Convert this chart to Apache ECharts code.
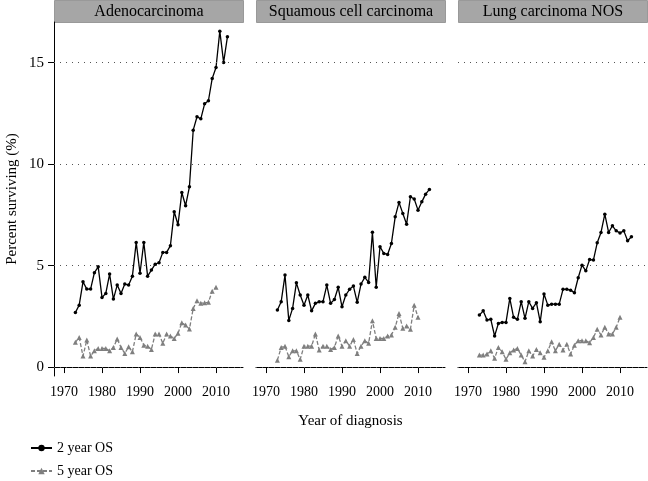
<!DOCTYPE html>
<html>
<head>
<meta charset="utf-8">
<script src="https://cdn.jsdelivr.net/npm/echarts@6/dist/echarts.min.js"></script>
<style>html,body{margin:0;padding:0;background:#fff}#c{width:648px;height:481px}</style>
</head>
<body>
<div id="c"></div>
<script>
const panels = ['Adenocarcinoma', 'Squamous cell carcinoma', 'Lung carcinoma NOS'];
const years2 = [1973,1974,1975,1976,1977,1978,1979,1980,1981,1982,1983,1984,1985,1986,1987,1988,1989,1990,1991,1992,1993,1994,1995,1996,1997,1998,1999,2000,2001,2002,2003,2004,2005,2006,2007,2008,2009,2010,2011,2012,2013];
const years5 = [1973,1974,1975,1976,1977,1978,1979,1980,1981,1982,1983,1984,1985,1986,1987,1988,1989,1990,1991,1992,1993,1994,1995,1996,1997,1998,1999,2000,2001,2002,2003,2004,2005,2006,2007,2008,2009,2010];
const adeno2 = [2.69,3.05,4.20,3.84,3.84,4.65,4.94,3.43,3.63,4.58,3.35,4.04,3.63,4.09,4.04,4.48,6.14,4.62,6.14,4.48,4.78,5.07,5.14,5.65,5.65,5.98,7.65,7.01,8.60,7.95,8.88,11.67,12.33,12.23,12.97,13.12,14.22,14.76,16.55,15.01,16.27];
const adeno5 = [1.22,1.46,0.54,1.33,0.54,0.80,0.92,0.92,0.92,0.80,0.97,1.38,0.97,0.67,1.00,0.75,1.63,1.46,1.08,1.03,0.87,1.63,1.63,1.17,1.63,1.53,1.41,1.66,2.18,2.07,1.87,2.89,3.27,3.14,3.17,3.19,3.74,3.93];
const squam2 = [2.81,3.22,4.53,2.30,2.89,4.15,3.55,3.05,3.55,2.77,3.14,3.22,3.22,4.04,3.14,3.33,3.93,2.97,3.55,3.83,3.99,3.19,4.09,4.42,4.17,6.64,3.93,5.93,5.60,5.55,6.09,7.40,8.11,7.57,7.04,8.39,8.28,7.73,8.14,8.52,8.75];
const squam5 = [0.34,0.97,1.03,0.51,0.80,0.80,0.38,1.03,1.03,1.03,1.63,0.84,1.03,1.03,0.87,0.97,1.53,1.03,1.30,1.03,1.36,0.67,1.03,1.30,1.17,2.28,1.41,1.41,1.41,1.53,1.58,1.96,2.64,1.91,2.02,1.86,3.05,2.45];
const lung2 = [2.56,2.77,2.32,2.35,1.53,2.15,2.20,2.20,3.38,2.45,2.35,3.22,2.40,3.22,2.89,3.17,2.23,3.60,3.05,3.10,3.10,3.10,3.83,3.83,3.79,3.66,4.40,5.02,4.74,5.30,5.27,6.12,6.63,7.53,6.63,6.96,6.71,6.61,6.71,6.22,6.42];
const lung5 = [0.59,0.59,0.64,0.80,0.43,0.97,0.75,0.38,0.70,0.84,0.92,0.59,0.26,0.80,0.54,0.87,0.70,0.48,0.80,1.25,0.80,1.13,0.84,1.13,0.64,1.08,1.30,1.30,1.30,1.20,1.46,1.86,1.58,1.96,1.63,1.63,1.96,2.45];
const xTicks = [1970, 1980, 1990, 2000, 2010];
const yTicks = [0, 5, 10, 15];
const seriesNames = ['2 year OS', '5 year OS'];

const twoYear = [adeno2, squam2, lung2];
const fiveYear = [adeno5, squam5, lung5];

const FONT = '"Liberation Serif", "Times New Roman", serif';
const gridLeft = [54, 256, 458];
const gridW = 189;
const gridTop = 22;
const gridH = 354;
const xMin = 1967.37, xMax = 2017.1;
const yMin = -0.44, yMax = 17.0;

const grids = [], xAxes = [], yAxes = [], series = [], graphics = [];
panels.forEach((p, i) => {
  grids.push({left: gridLeft[i], top: gridTop, width: gridW, height: gridH});
  xAxes.push({
    type: 'value', gridIndex: i, min: xMin, max: xMax,
    axisLine: {show: true, lineStyle: {color: '#000', width: 1}},
    axisTick: {show: true, length: 6, customValues: xTicks, lineStyle: {color: '#000'}},
    axisLabel: {customValues: xTicks, color: '#000', fontFamily: FONT, fontSize: 14, margin: 9,
                formatter: v => String(v)},
    splitLine: {show: false},
    name: i === 1 ? 'Year of diagnosis' : '', nameLocation: 'middle', nameGap: 38,
    nameTextStyle: {color: '#000', fontFamily: FONT, fontSize: 15}
  });
  yAxes.push({
    type: 'value', gridIndex: i, min: yMin, max: yMax,
    axisLine: {show: i === 0, lineStyle: {color: '#000', width: 1}},
    axisTick: {show: i === 0, length: 6, customValues: yTicks, lineStyle: {color: '#000'}},
    axisLabel: {show: i === 0, customValues: yTicks, color: '#000', fontFamily: FONT, fontSize: 15, margin: 10},
    splitLine: {show: false},
    name: i === 0 ? 'Percent surviving (%)' : '', nameLocation: 'middle', nameGap: 34,
    nameTextStyle: {color: '#000', fontFamily: FONT, fontSize: 15}
  });
  series.push({
    name: seriesNames[0], type: 'line', xAxisIndex: i, yAxisIndex: i,
    data: years2.map((y, k) => [y, twoYear[i][k]]),
    symbol: 'circle', symbolSize: 3.5, showSymbol: true,
    lineStyle: {color: '#000', width: 1.3}, itemStyle: {color: '#000'},
    animation: false, z: 3,
    markLine: {
      silent: true, symbol: 'none', label: {show: false},
      lineStyle: {color: '#555', width: 1, type: [1, 5]},
      data: yTicks.map(v => ({yAxis: v})), animation: false
    }
  });
  series.push({
    name: seriesNames[1], type: 'line', xAxisIndex: i, yAxisIndex: i,
    data: years5.map((y, k) => [y, fiveYear[i][k]]),
    symbol: 'triangle', symbolSize: 5, showSymbol: true,
    lineStyle: {color: '#7f7f7f', width: 1.3, type: [4, 2]}, itemStyle: {color: '#7f7f7f'},
    animation: false, z: 2
  });
  graphics.push({
    type: 'group', left: gridLeft[i], top: 0,
    children: [
      {type: 'rect', shape: {x: 0, y: 0, width: gridW, height: 22},
       style: {fill: '#a6a6a6', stroke: '#999', lineWidth: 1}},
      {type: 'text', x: gridW / 2, y: 11,
       style: {text: p, fill: '#000', font: '16px ' + FONT, align: 'center', verticalAlign: 'middle'}}
    ]
  });
});

const chart = echarts.init(document.getElementById('c'), null, {renderer: 'canvas'});
chart.setOption({
  animation: false,
  backgroundColor: '#fff',
  grid: grids, xAxis: xAxes, yAxis: yAxes, series: series,
  graphic: graphics,
  legend: {
    data: seriesNames, orient: 'vertical', left: 30, top: 441, height: 40, padding: 0,
    itemWidth: 21, itemHeight: 8, itemGap: 9,
    textStyle: {color: '#000', fontFamily: FONT, fontSize: 14}
  }
});
</script>
</body>
</html>
